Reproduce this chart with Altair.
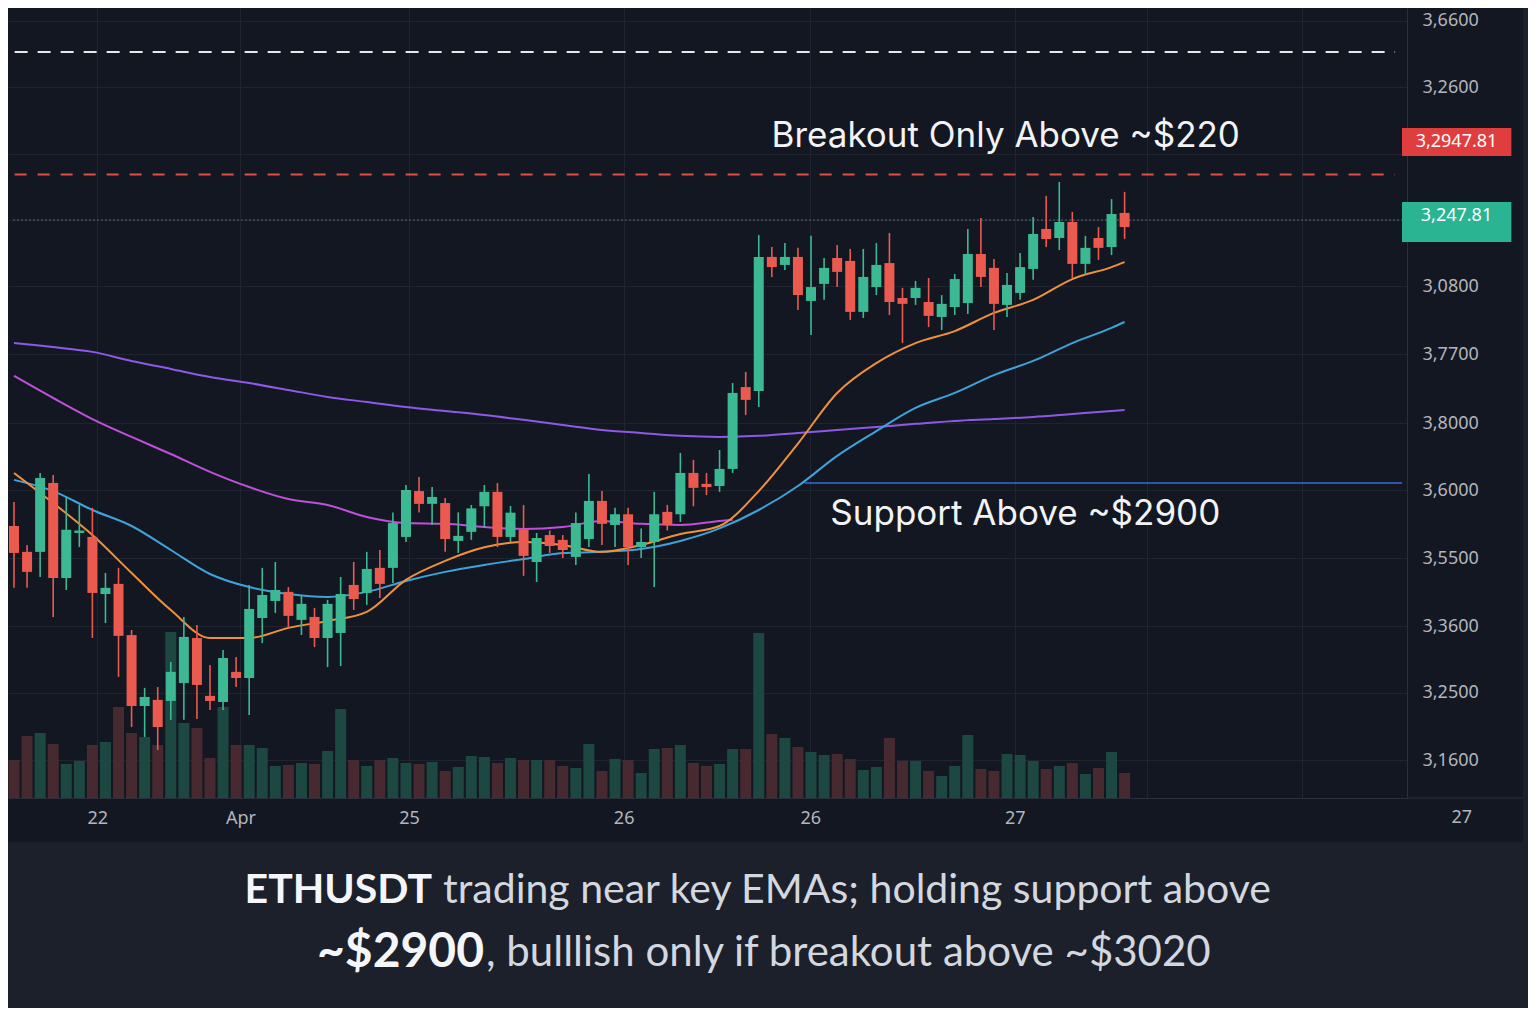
import altair as alt
import pandas as pd

# ---------------- data ----------------
opens = [2886.5, 2876.8, 2876.8, 2902.6, 2867.0, 2883.9, 2882.4, 2861.0, 2864.8, 2845.6,
         2819.0, 2821.3, 2820.9, 2827.6, 2844.5, 2822.8, 2820.5, 2831.8, 2829.5, 2852.0,
         2858.4, 2861.8, 2851.3, 2852.4, 2844.5, 2846.4, 2864.4, 2861.4, 2870.8, 2870.8,
         2882.4, 2899.6, 2894.8, 2895.1, 2880.9, 2884.3, 2893.9, 2899.3, 2882.4, 2885.1,
         2873.0, 2883.1, 2881.3, 2874.9, 2881.6, 2895.9, 2886.9, 2890.9, 2878.6, 2880.5,
         2891.8, 2890.9, 2906.4, 2902.3, 2901.5, 2907.9, 2938.6, 2937.1, 2987.4, 2984.4,
         2987.4, 2970.9, 2977.3, 2987.0, 2985.9, 2966.8, 2976.1, 2985.1, 2972.0, 2972.0,
         2970.5, 2964.9, 2968.6, 2970.1, 2988.5, 2983.3, 2969.4, 2973.9, 2982.9, 2997.9,
         2994.5, 3000.5, 2984.8, 2994.5, 2991.1, 3003.9]
highs = [2895.5, 2879.4, 2906.4, 2905.6, 2897.4, 2894.4, 2893.3, 2868.9, 2870.8, 2847.5,
         2825.8, 2826.1, 2835.5, 2852.4, 2849.4, 2834.4, 2840.0, 2837.4, 2864.4, 2870.8,
         2873.0, 2863.6, 2860.6, 2855.8, 2858.8, 2867.4, 2873.0, 2876.8, 2877.5, 2891.6,
         2901.9, 2904.9, 2901.1, 2897.0, 2891.6, 2894.4, 2901.9, 2902.6, 2894.0, 2894.4,
         2883.9, 2884.8, 2883.1, 2891.6, 2906.0, 2899.6, 2893.3, 2893.3, 2885.6, 2899.3,
         2894.4, 2913.9, 2911.3, 2906.4, 2915.0, 2940.1, 2944.3, 2995.6, 2991.1, 2992.6,
         2990.8, 2995.3, 2987.0, 2991.9, 2990.4, 2990.4, 2992.6, 2996.4, 2975.8, 2978.4,
         2979.5, 2973.1, 2981.0, 2997.9, 3002.0, 2986.6, 2981.4, 2988.9, 3002.4, 3010.3,
         3015.5, 3004.3, 2995.3, 2998.6, 3009.1, 3011.8]
lows = [2863.3, 2863.3, 2867.4, 2852.4, 2862.5, 2878.6, 2844.5, 2850.1, 2829.9, 2811.1,
        2807.4, 2802.5, 2813.8, 2813.8, 2814.1, 2817.5, 2817.5, 2826.1, 2815.6, 2842.6,
        2853.9, 2848.3, 2845.6, 2841.1, 2833.6, 2834.0, 2855.0, 2856.9, 2859.5, 2865.1,
        2880.5, 2891.6, 2886.9, 2876.8, 2876.4, 2881.3, 2885.8, 2878.6, 2880.5, 2867.8,
        2865.5, 2876.4, 2874.5, 2871.9, 2878.6, 2879.4, 2878.6, 2871.9, 2874.5, 2863.6,
        2884.8, 2888.0, 2893.9, 2898.1, 2899.3, 2906.4, 2928.1, 2931.1, 2979.9, 2982.5,
        2967.5, 2958.1, 2971.3, 2976.1, 2963.8, 2964.5, 2973.1, 2965.6, 2955.1, 2969.4,
        2961.1, 2960.0, 2965.6, 2966.0, 2976.1, 2960.0, 2964.9, 2971.3, 2978.8, 2991.1,
        2990.0, 2979.5, 2980.6, 2986.3, 2988.1, 2994.1]
closes = [2876.4, 2869.3, 2904.5, 2867.0, 2885.1, 2884.8, 2861.4, 2863.3, 2845.3, 2819.0,
          2822.4, 2811.1, 2831.8, 2844.9, 2826.9, 2820.9, 2837.0, 2829.5, 2855.4, 2860.6,
          2862.5, 2852.8, 2857.3, 2844.5, 2857.3, 2861.0, 2859.1, 2870.4, 2864.8, 2887.6,
          2900.0, 2894.8, 2897.4, 2881.6, 2882.8, 2893.1, 2899.3, 2882.4, 2891.5, 2875.3,
          2882.0, 2879.0, 2877.5, 2887.6, 2895.9, 2887.3, 2890.9, 2878.6, 2880.5, 2890.9,
          2886.9, 2906.4, 2900.8, 2901.1, 2907.9, 2936.4, 2933.8, 2987.4, 2983.6, 2987.4,
          2973.1, 2976.1, 2983.3, 2981.8, 2966.8, 2979.9, 2984.4, 2970.5, 2969.8, 2975.8,
          2965.3, 2969.8, 2979.1, 2988.5, 2979.9, 2969.8, 2976.9, 2983.6, 2996.0, 2994.1,
          3000.5, 2984.8, 2990.8, 2990.8, 3003.5, 2998.6]
volumes = [380, 620, 650, 540, 340, 370, 530, 560, 910, 650,
           610, 530, 1660, 750, 700, 400, 910, 530, 530, 500,
           320, 330, 350, 340, 470, 890, 380, 320, 380, 400,
           350, 340, 360, 270, 310, 420, 410, 350, 400, 380,
           380, 380, 320, 300, 540, 270, 390, 380, 250, 490,
           500, 530, 350, 320, 340, 490, 490, 1650, 640, 600,
           510, 460, 430, 440, 390, 280, 310, 600, 370, 370,
           270, 220, 320, 630, 290, 270, 440, 430, 370, 290,
           320, 350, 240, 300, 460, 250]

ema_idx = list(range(0, 85, 3)) + [85]
ema_fast = [2906.4, 2895.1, 2883.1, 2868.9, 2855.0, 2844.5, 2844.5, 2848.3, 2850.9, 2854.3,
            2866.3, 2873.4, 2878.5, 2880.5, 2879.4, 2876.8, 2879.4, 2883.5, 2886.5, 2899.6,
            2917.4, 2936.4, 2947.6, 2955.1, 2959.6, 2966.4, 2971.3, 2979.1, 2983.6, 2985.5]
ema_mid = [2903.8, 2899.6, 2892.5, 2886.5, 2877.5, 2868.5, 2863.6, 2861.0, 2859.9, 2861.8,
           2865.9, 2869.3, 2871.9, 2874.1, 2876.4, 2876.8, 2877.9, 2880.9, 2885.6, 2892.5,
           2901.5, 2912.8, 2922.1, 2930.8, 2936.4, 2943.1, 2948.4, 2955.1, 2960.8, 2963.0]
ema_slow_idx = list(range(0, 55, 3)) + [55]
ema_slow = [2942.8, 2934.5, 2926.6, 2919.9, 2913.5, 2906.8, 2901.1, 2896.6, 2894.4, 2889.9,
            2887.6, 2887.3, 2886.1, 2885.4, 2886.1, 2888.4, 2887.3, 2886.9, 2888.4, 2888.8]
ema_long = [2955.1, 2953.6, 2951.8, 2948.4, 2945.4, 2942.4, 2940.1, 2937.5, 2934.9, 2933.0,
            2931.1, 2929.6, 2928.1, 2926.3, 2924.4, 2922.5, 2921.4, 2920.3, 2919.9, 2920.3,
            2921.4, 2922.5, 2923.6, 2924.8, 2925.9, 2926.6, 2927.4, 2928.5, 2929.6, 2930.0]

x_tick_pos = [6.38, 17.33, 30.24, 46.66, 60.94, 76.6, 86.7, 98.56]
x_tick_labels = ["22", "Apr", "25", "26", "26", "27", "", ""]
x_extra_label_pos = 110.8
x_extra_label = "27"

y_tick_pos = [3075.9, 3051.1, 3026.0, 3001.25, 2976.5, 2951.0, 2925.1, 2900.0, 2874.5, 2849.0, 2823.9, 2798.75]
y_tick_labels = ["3,6600", "3,2600", "", "", "3,0800", "3,7700", "3,8000", "3,6000",
                 "3,5500", "3,3600", "3,2500", "3,1600"]

target_level = 3064.25
breakout_level = 3018.3
current_level = 3001.25
support_level = 2902.6

breakout_text = "Breakout Only Above ~$220"
support_text = "Support Above ~$2900"
red_tag = "3,2947.81"
green_tag = "3,247.81"
caption1_bold = "ETHUSDT"
caption1_rest = "trading near key EMAs; holding support above"
caption2_bold = "~$2900"
caption2_rest = ", bulllish only if breakout above ~$3020"

# ---------------- styling ----------------
BG = "#131722"
OUTER = "#1c202b"
GREEN = "#3cb993"
RED = "#ea5a4e"
VOL_GREEN = "#1d4842"
VOL_RED = "#472a2f"
GRID = "#20242f"
AXIS = "#2b2f3b"
LABEL = "#b2b5be"

X_DOMAIN = [-0.076, 106.23]
Y_DOMAIN = [2784.5, 3080.75]


def lookup_expr(pos, labels):
    expr = "''"
    for p, l in reversed(list(zip(pos, labels))):
        expr = f"abs(datum.value - {p}) < 0.01 ? '{l}' : ({expr})"
    return expr


x_axis = alt.Axis(values=x_tick_pos, labelExpr=lookup_expr(x_tick_pos, x_tick_labels),
                  grid=True, gridColor=GRID, domain=True, domainColor=AXIS, ticks=False,
                  labelColor=LABEL, labelFontSize=18, labelFont="Noto Sans", labelPadding=11,
                  title=None)
y_axis = alt.Axis(orient="right", values=y_tick_pos, labelExpr=lookup_expr(y_tick_pos, y_tick_labels),
                  grid=True, gridColor=GRID, domain=True, domainColor=AXIS, ticks=False,
                  labelColor=LABEL, labelFontSize=18, labelFont="Noto Sans", labelPadding=15,
                  labelAlign="left", title=None)
xs = alt.Scale(domain=X_DOMAIN, nice=False, zero=False)
ys = alt.Scale(domain=Y_DOMAIN, nice=False, zero=False)


def X(field):
    return alt.X(field, type="quantitative", scale=xs, axis=x_axis)


def Y(field):
    return alt.Y(field, type="quantitative", scale=ys, axis=y_axis)


candles = pd.DataFrame({"i": list(range(len(opens))), "o": opens, "h": highs, "l": lows,
                        "c": closes, "vol": volumes})
up = [c >= o for o, c in zip(opens, closes)]
candles["col"] = [GREEN if u else RED for u in up]
candles["vcol"] = [VOL_GREEN if u else VOL_RED for u in up]

volume_layer = alt.Chart(candles).mark_bar(size=11).encode(
    x=X("i"),
    y=alt.Y("vol:Q", scale=alt.Scale(domain=[0, 7900], nice=False), axis=None),
    color=alt.Color("vcol:N", scale=None),
)

dummy = pd.DataFrame({"k": [0]})


def level_df(v, x0, x1):
    return pd.DataFrame({"v": [v], "x0": [x0], "x1": [x1]})


white_dash = alt.Chart(level_df(target_level, 0.05, 105.7)).mark_rule(
    color="#e8e8e8", strokeWidth=2.2, strokeDash=[13, 10]).encode(x=X("x0"), x2="x1", y=Y("v"))
red_dash = alt.Chart(level_df(breakout_level, 0.05, 105.7)).mark_rule(
    color="#e0504a", strokeWidth=2, strokeDash=[12, 11]).encode(x=X("x0"), x2="x1", y=Y("v"))
cur_dot = alt.Chart(level_df(current_level, X_DOMAIN[0], X_DOMAIN[1])).mark_rule(
    color="#5d6372", strokeWidth=1, strokeDash=[2, 2]).encode(x=X("x0"), x2="x1", y=Y("v"))
support_line = alt.Chart(level_df(support_level, 60.5, X_DOMAIN[1])).mark_rule(
    color="#2f6fd8", strokeWidth=1.6).encode(x=X("x0"), x2="x1", y=Y("v"))


def ema_layer(idx, vals, color):
    df = pd.DataFrame({"i": idx, "v": vals})
    return alt.Chart(df).mark_line(color=color, strokeWidth=2, interpolate="monotone").encode(
        x=X("i"), y=Y("v"))


ema_long_l = ema_layer(ema_idx, ema_long, "#8f58e6")
ema_slow_l = ema_layer(ema_slow_idx, ema_slow, "#c04fdc")
ema_mid_l = ema_layer(ema_idx, ema_mid, "#3ea3db")
ema_fast_l = ema_layer(ema_idx, ema_fast, "#f0913a")

wicks = alt.Chart(candles).mark_rule(strokeWidth=1.6).encode(
    x=X("i"), y=Y("l"), y2="h", color=alt.Color("col:N", scale=None))
bodies = alt.Chart(candles).mark_bar(size=10).encode(
    x=X("i"), y=Y("o"), y2="c", color=alt.Color("col:N", scale=None))

ann = pd.DataFrame({"i": [75.9, 77.4], "v": [3032.75, 2891.0], "t": [breakout_text, support_text]})
ann_layer = alt.Chart(ann).mark_text(font="Inter", fontSize=35, color="#f2f3f5",
                                     align="center", baseline="middle").encode(
    x=X("i"), y=Y("v"), text="t:N")

tags = pd.DataFrame({"x0": [106.23, 106.23], "x1": [114.6, 114.6],
                     "y0": [3035.75, 3008.0], "y1": [3025.25, 2993.0],
                     "ty": [3030.5, 3002.75], "xt": [110.4, 110.4],
                     "t": [red_tag, green_tag], "col": ["#e03e3e", "#2ab492"]})
tag_rect = alt.Chart(tags).mark_rect().encode(
    x=X("x0"), x2="x1", y=Y("y0"), y2="y1", color=alt.Color("col:N", scale=None))
tag_text = alt.Chart(tags).mark_text(font="Noto Sans", fontSize=18, color="#ffffff",
                                     align="center", baseline="middle").encode(
    x=X("xt"), y=Y("ty"), text="t:N")

extra_label = alt.Chart(pd.DataFrame({"i": [x_extra_label_pos], "t": [x_extra_label]})).mark_text(
    font="Noto Sans", fontSize=18, color=LABEL, align="center", baseline="middle").encode(
    x=X("i"), y=alt.value(810), text="t:N")

axis_ext = alt.Chart(dummy).mark_rule(color=AXIS, strokeWidth=1).encode(
    x=alt.value(1399), x2=alt.value(1515), y=alt.value(790))

caption_bg = alt.Chart(dummy).mark_rect(color=OUTER).encode(
    x=alt.value(0), x2=alt.value(1520), y=alt.value(834), y2=alt.value(1000))
right_strip = alt.Chart(dummy).mark_rect(color=OUTER).encode(
    x=alt.value(1515), x2=alt.value(1520), y=alt.value(0), y2=alt.value(834))


def cap(text, x, y, align, bold, size):
    return alt.Chart(dummy).mark_text(
        font="Lato", fontSize=size, fontWeight="bold" if bold else "normal",
        color="#f4f6fa" if bold else "#d3d7df", align=align, baseline="middle").encode(
        x=alt.value(x), y=alt.value(y), text=alt.value(text))


captions = [cap(caption1_bold, 424, 883, "right", True, 41),
            cap(caption1_rest, 435, 883, "left", False, 41),
            cap(caption2_bold, 476, 945, "right", True, 48),
            cap(caption2_rest, 478, 945, "left", False, 42)]

price_group = alt.layer(
    white_dash, red_dash, cur_dot, support_line,
    ema_long_l, ema_slow_l, ema_mid_l, ema_fast_l,
    wicks, bodies, ann_layer, tag_rect, tag_text, extra_label, axis_ext,
    caption_bg, right_strip, *captions,
)

chart = alt.layer(volume_layer, price_group).resolve_scale(y="independent").properties(
    width=1399, height=790,
    autosize=alt.AutoSizeParams(type="none"),
    padding={"left": 0, "top": 0, "right": 121, "bottom": 210},
    background=BG,
).configure_view(stroke=None)

chart.save("out.html", embed_options={"renderer": "svg", "actions": False})
